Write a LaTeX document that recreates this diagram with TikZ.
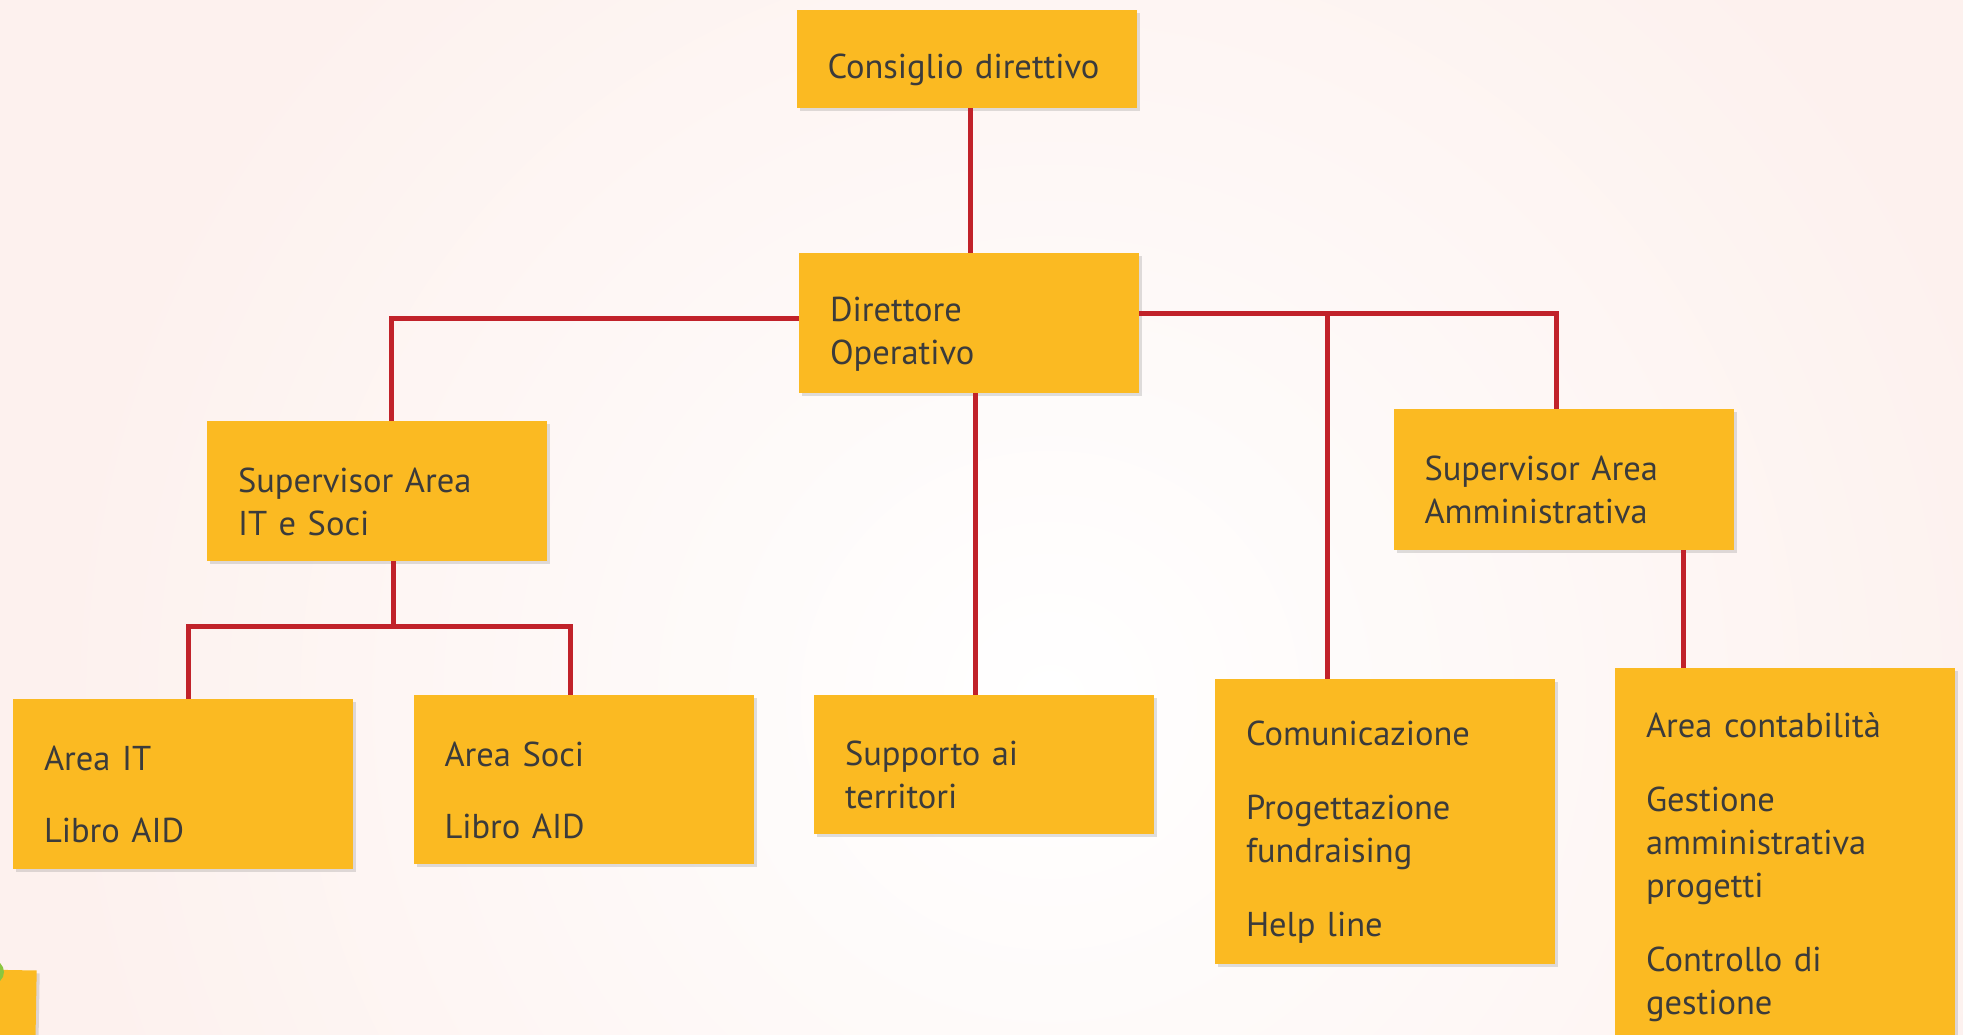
\documentclass[tikz,border=0pt]{standalone}
\usepackage{fontspec}
\setmainfont{PT Sans}
\usetikzlibrary{shadows,calc}
\definecolor{boxfill}{HTML}{FBBA22}
\definecolor{linered}{HTML}{C1222A}
\definecolor{txtgray}{HTML}{3B3B3B}
\definecolor{bgpink}{HTML}{FDF1EE}
\definecolor{leafgreen}{HTML}{8CC63F}
\begin{document}
\begin{tikzpicture}[x=1pt,y=-1pt,
  box/.style={fill=boxfill, text=txtgray, align=left, inner xsep=31pt, inner ysep=0pt,
    text width=278pt, minimum width=340pt, font=\fontsize{34.5}{43}\selectfont,
    execute at begin node={\rule{0pt}{46pt}},
    drop shadow={shadow xshift=3pt, shadow yshift=-3pt, opacity=0.25, fill=gray}},
  link/.style={draw=linered, line width=5pt}]
\useasboundingbox (0,0) rectangle (1963,1035);
\fill[bgpink] (0,0) rectangle (1963,1035);
\shade[inner color=white, outer color=bgpink] (1050,700) circle (1000pt);
% nodes
\node[box, minimum height=98pt] (cons) at (966.5,59) {Consiglio direttivo};
\node[box, minimum height=140pt] (dir) at (969,323) {Direttore\\Operativo};
\node[box, minimum height=140pt] (supit) at (377,491) {Supervisor Area\\IT e Soci};
\node[box, minimum height=141pt] (supamm) at (1563.5,479.5) {Supervisor Area\\Amministrativa};
\node[box, minimum height=170pt] (areait) at (183,784) {Area IT\\[29pt]Libro AID};
\node[box, minimum height=169pt] (areasoci) at (583.5,779.5) {Area Soci\\[29pt]Libro AID};
\node[box, minimum height=139pt] (supp) at (984,764.5) {Supporto ai\\territori};
\node[box, minimum height=285pt] (com) at (1385,821.5) {Comunicazione\\[31pt]Progettazione\\fundraising\\[31pt]Help line};
\node[box, minimum height=377pt] (cont) at (1785,856.5) {Area contabilità\\[31pt]Gestione\\amministrativa\\progetti\\[31pt]Controllo di\\gestione};
\node[fill=boxfill, minimum width=56pt, minimum height=80pt, inner sep=0pt, rotate=-1,
  drop shadow={shadow xshift=3pt, shadow yshift=-3pt, opacity=0.25, fill=gray}] (small) at (8,1010) {};
\node[fill=leafgreen, circle, minimum size=24pt, inner sep=0pt] (leaf) at (-8,972) {};
% connectors
\coordinate (dirW) at ([yshift=5pt]dir.west);
\coordinate (dirE) at ([yshift=10pt]dir.east);
\coordinate (supitN) at ([xshift=14pt]supit.north);
\coordinate (supammN) at ([xshift=-7pt]supamm.north);
\coordinate (comN) at ([xshift=-58pt]com.north);
\coordinate (dirS) at ([xshift=6pt]dir.south);
\coordinate (supitS) at ([xshift=16pt]supit.south);
\coordinate (areaitN) at ([xshift=5pt]areait.north);
\coordinate (areasociN) at ([xshift=-13pt]areasoci.north);
\coordinate (supammS) at ([xshift=120pt]supamm.south);
\coordinate (mid) at ($(supitS)+(0,65)$);
\draw[link] ([xshift=4pt]cons.south) -- ([xshift=4pt]cons.south |- dir.north);
\draw[link] (dirW) -| (supitN);
\draw[link] (dirE) -| (supammN);
\draw[link] (comN) -- (comN |- dirE);
\draw[link] (dirS) -- (dirS |- supp.north);
\draw[link] (supitS) -- (mid);
\draw[link] (areaitN) |- (mid) -| (areasociN);
\draw[link] (supammS) -- (supammS |- cont.north);
\end{tikzpicture}
\end{document}
